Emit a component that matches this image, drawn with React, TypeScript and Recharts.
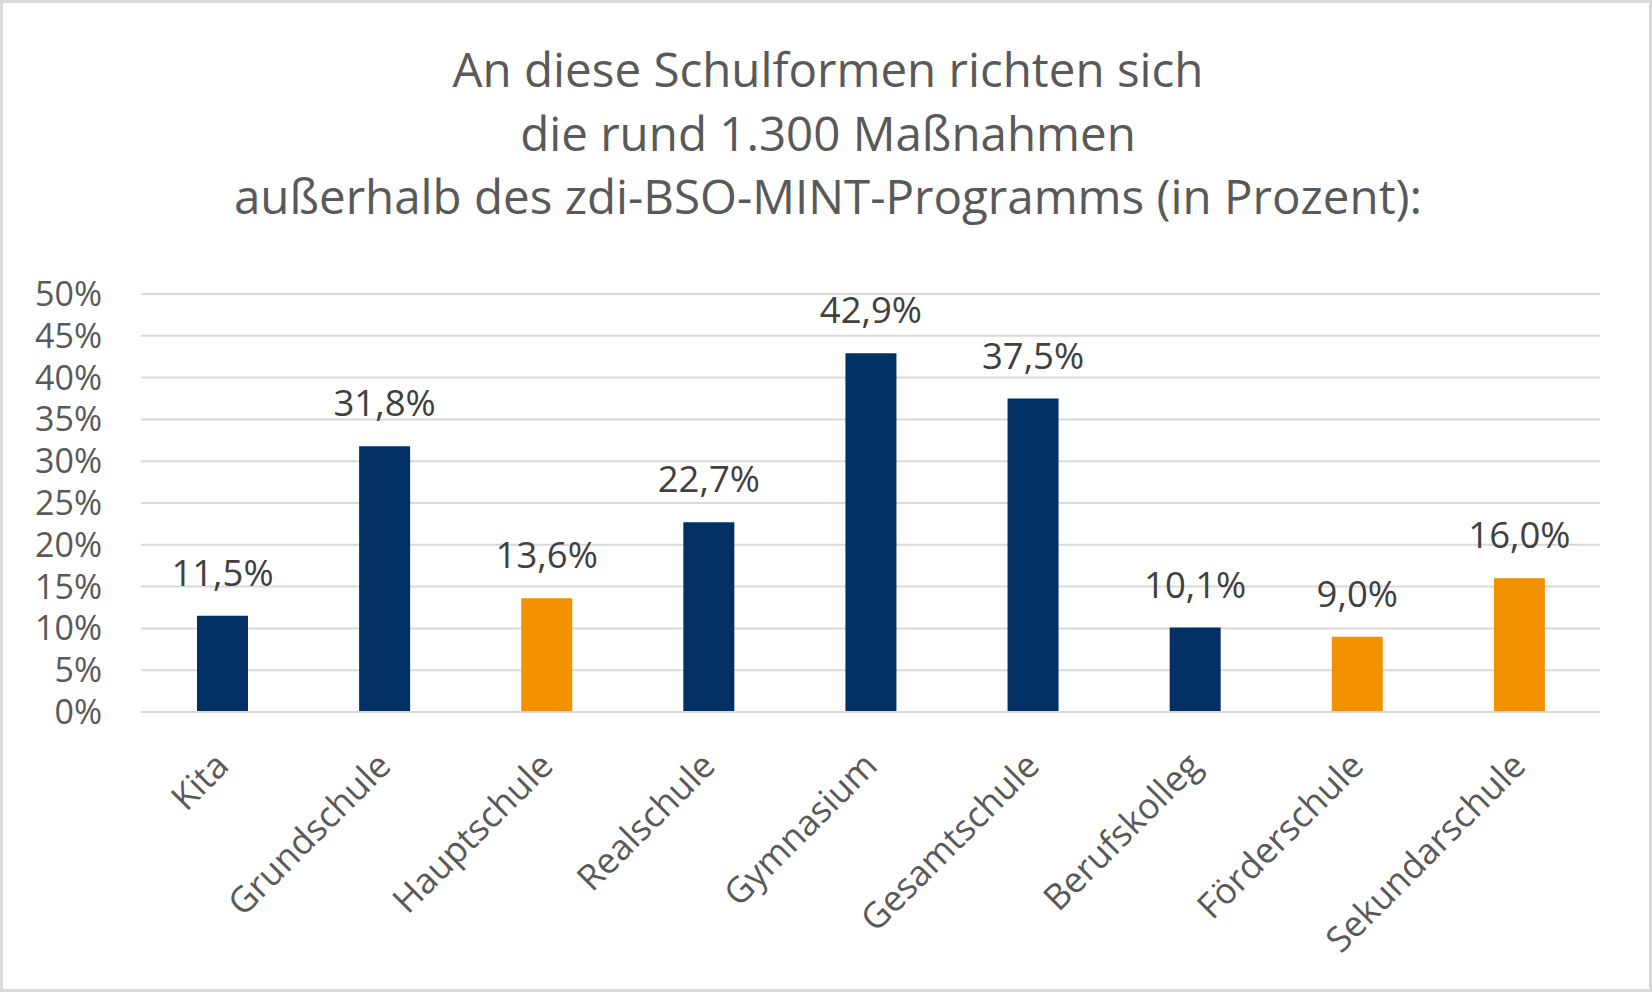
import { Bar, BarChart, CartesianGrid, Cell, LabelList, XAxis, YAxis } from "recharts";

const categories = [
  "Kita",
  "Grundschule",
  "Hauptschule",
  "Realschule",
  "Gymnasium",
  "Gesamtschule",
  "Berufskolleg",
  "Förderschule",
  "Sekundarschule",
];
const shares = [11.5, 31.8, 13.6, 22.7, 42.9, 37.5, 10.1, 9.0, 16.0];
const highlighted = [false, false, true, false, false, false, false, true, true];
const yTicks = [0, 5, 10, 15, 20, 25, 30, 35, 40, 45, 50];
const titleLines = [
  "An diese Schulformen richten sich",
  "die rund 1.300 Maßnahmen",
  "außerhalb des zdi-BSO-MINT-Programms (in Prozent):",
];

const NAVY = "#003064";
const ORANGE = "#F39200";
const FONT = "'Open Sans', sans-serif";

const chartData = categories.map((name, i) => ({ name, value: shares[i], orange: highlighted[i] }));

const pct = (v: number) => v.toFixed(1).replace(".", ",") + "%";

function CategoryTick(props: any) {
  const { x, y, payload } = props;
  const ty = y + 47;
  return (
    <text
      x={x}
      y={ty}
      dy="0.35em"
      textAnchor="end"
      transform={`rotate(-45, ${x}, ${ty})`}
      fill="#595959"
      fontSize={35.5}
      fontFamily={FONT}
    >
      {payload.value}
    </text>
  );
}

export default function App() {
  return (
    <div
      style={{
        position: "absolute",
        left: 0,
        top: 0,
        width: 1652,
        height: 992,
        background: "#fff",
        boxShadow: "inset 0 0 0 3px #d9d9d9",
        fontFamily: FONT,
      }}
    >
      <svg width={1652} height={260} style={{ position: "absolute", left: 0, top: 0 }}>
        {titleLines.map((line, i) => (
          <text
            key={i}
            x={828}
            y={87 + i * 63.5}
            textAnchor="middle"
            fill="#595959"
            fontSize={47.5}
            fontFamily={FONT}
          >
            {line}
          </text>
        ))}
      </svg>
      <div style={{ position: "absolute", left: 0, top: 0 }}>
        <BarChart
          width={1652}
          height={992}
          data={chartData}
          margin={{ top: 294, right: 52, bottom: 0, left: 0 }}
        >
          <CartesianGrid vertical={false} stroke="#d9d9d9" strokeWidth={2} />
          <XAxis
            dataKey="name"
            interval={0}
            tickLine={false}
            tickSize={0}
            tickMargin={0}
            axisLine={{ stroke: "#d9d9d9", strokeWidth: 2 }}
            tick={<CategoryTick />}
            height={280}
          />
          <YAxis
            width={141}
            domain={[0, 50]}
            ticks={yTicks}
            interval={0}
            axisLine={false}
            tickLine={false}
            tickSize={0}
            tickMargin={39}
            tickFormatter={(v: number) => v + "%"}
            tick={{ fill: "#595959", fontSize: 34, fontFamily: FONT }}
          />
          <Bar dataKey="value" barSize={51} isAnimationActive={false}>
            {chartData.map((d, i) => (
              <Cell key={i} fill={d.orange ? ORANGE : NAVY} />
            ))}
            <LabelList
              dataKey="value"
              position="top"
              offset={30}
              formatter={(v: any) => pct(Number(v))}
              fill="#404040"
              fontSize={36.5}
              fontFamily={FONT}
            />
          </Bar>
        </BarChart>
      </div>
    </div>
  );
}
